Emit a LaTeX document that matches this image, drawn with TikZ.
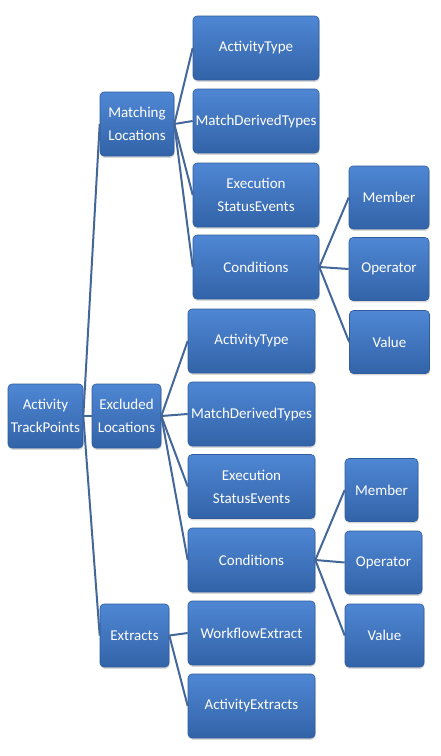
\documentclass[tikz,border=0pt]{standalone}
\usepackage{fontspec}
\setmainfont{Carlito}
\usetikzlibrary{shadows}

\definecolor{boxtop}{HTML}{4F87D4}
\definecolor{boxbot}{HTML}{3263A8}
\definecolor{boxline}{HTML}{2E5C9C}
\definecolor{linkcol}{HTML}{44679A}

\tikzset{
	box/.style={rounded corners=4pt, draw=boxline, line width=0.6pt,
		top color=boxtop, bottom color=boxbot,
		drop shadow={opacity=0.3, shadow xshift=0.6pt, shadow yshift=-1.8pt},
		text=white, align=center, inner sep=0pt,
		font=\fontsize{15}{23}\selectfont},
	link/.style={draw=linkcol, line width=2pt}
}

\begin{document}
\begin{tikzpicture}[x=1pt, y=-1pt]
\useasboundingbox (0,0) rectangle (441,756);

% Raiz y ramas
\node[box, minimum width=75pt, minimum height=64pt] (root) at (45.5,416) {Activity\\TrackPoints};
\node[box, minimum width=74pt, minimum height=64pt] (mloc) at (137,124) {Matching\\Locations};
\node[box, minimum width=69pt, minimum height=64pt] (eloc) at (126.5,416) {Excluded\\Locations};
\node[box, minimum width=69pt, minimum height=63pt] (ext) at (134.5,635.5) {Extracts};

% Matching Locations
\begin{scope}[every node/.style={box, minimum width=126pt, minimum height=64pt}]
	\node (mA) at (256,48) {ActivityType};
	\node (mB) at (256,121) {MatchDerivedTypes};
	\node (mC) at (256,195) {Execution\\StatusEvents};
	\node (mD) at (256,267) {Conditions};
\end{scope}
\begin{scope}[every node/.style={box, minimum width=80pt, minimum height=63pt}]
	\node (mD1) at (389,197.5) {Member};
	\node (mD2) at (389,269) {Operator};
	\node (mD3) at (389.5,342) {Value};
\end{scope}

% Excluded Locations y Extracts
\begin{scope}[every node/.style={box, minimum width=127pt, minimum height=64pt}]
	\node (eA) at (251.5,341) {ActivityType};
	\node (eB) at (251.5,414) {MatchDerivedTypes};
	\node (eC) at (251.5,486.5) {Execution\\StatusEvents};
	\node (eD) at (251.5,560) {Conditions};
	\node (xA) at (251.5,633) {WorkflowExtract};
	\node (xB) at (251.5,706) {ActivityExtracts};
\end{scope}
\begin{scope}[every node/.style={box, minimum height=63pt}]
	\node[minimum width=73pt] (eD1) at (381.5,490) {Member};
	\node[minimum width=77pt] (eD2) at (383.5,562.5) {Operator};
	\node[minimum width=79pt] (eD3) at (384.5,635.5) {Value};
\end{scope}

% Conectores
\foreach \c in {mloc, eloc, ext}
	\draw[link] (root.east) -- (\c.west);
\foreach \c in {mA, mB, mC, mD}
	\draw[link] (mloc.east) -- (\c.west);
\foreach \c in {mD1, mD2, mD3}
	\draw[link] (mD.east) -- (\c.west);
\foreach \c in {eA, eB, eC, eD}
	\draw[link] (eloc.east) -- (\c.west);
\foreach \c in {eD1, eD2, eD3}
	\draw[link] (eD.east) -- (\c.west);
\foreach \c in {xA, xB}
	\draw[link] (ext.east) -- (\c.west);
\end{tikzpicture}
\end{document}
